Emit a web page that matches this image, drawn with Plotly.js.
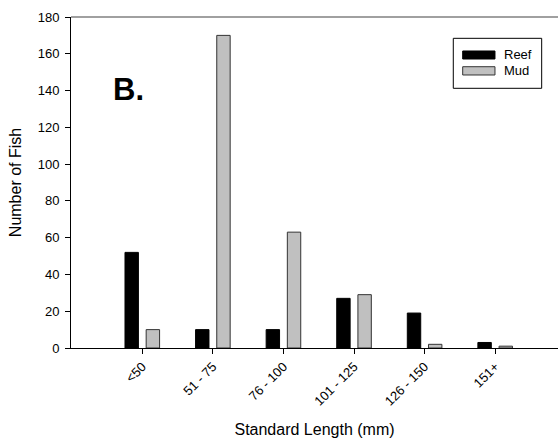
<!DOCTYPE html>
<html>
<head>
<meta charset="utf-8">
<script src="https://cdn.plot.ly/plotly-3.0.1.min.js"></script>
<style>html,body{margin:0;padding:0;background:#fff;}#chart{width:559px;height:438px;}</style>
</head>
<body>
<div id="chart"></div>
<script>
var categories = ["<50", "51 - 75", "76 - 100", "101 - 125", "126 - 150", "151+"];
var reefValues = [52, 10, 10, 27, 19, 3];
var mudValues = [10, 170, 63, 29, 2, 1];
var yTicks = [0, 20, 40, 60, 80, 100, 120, 140, 160, 180];
var seriesNames = ["Reef", "Mud"];
var seriesColors = ["#000000", "#c0c0c0"];
var seriesLines = ["#000000", "#333333"];

var font = "Arial, 'Liberation Sans', sans-serif";

var traces = [
  {
    type: "bar", name: seriesNames[0], x: categories, y: reefValues,
    width: 0.19, offset: -0.245,
    marker: {color: seriesColors[0], line: {color: seriesLines[0], width: 1}}
  },
  {
    type: "bar", name: seriesNames[1], x: categories, y: mudValues,
    width: 0.19, offset: 0.055,
    marker: {color: seriesColors[1], line: {color: seriesLines[1], width: 1}}
  }
];

// legend drawn as layout shapes + text (wide rectangular keys as in the reference)
var legendShapes = [
  {type: "rect", xref: "paper", yref: "paper", x0: 0.785, x1: 0.9665, y0: 0.7846, y1: 0.9356,
   line: {color: "#000", width: 1}, fillcolor: "#fff", layer: "above"},
  {type: "rect", xref: "paper", yref: "paper", x0: 0.8043, x1: 0.8706, y0: 0.8731, y1: 0.8973,
   line: {color: seriesLines[0], width: 1}, fillcolor: seriesColors[0], layer: "above"},
  {type: "rect", xref: "paper", yref: "paper", x0: 0.8043, x1: 0.8706, y0: 0.8248, y1: 0.8498,
   line: {color: seriesLines[1], width: 1}, fillcolor: seriesColors[1], layer: "above"}
];
var legendTexts = [
  {text: seriesNames[0], xref: "paper", yref: "paper", x: 0.885, y: 0.8852, xanchor: "left", yanchor: "middle",
   showarrow: false, font: {family: font, size: 13, color: "#000"}},
  {text: seriesNames[1], xref: "paper", yref: "paper", x: 0.885, y: 0.8369, xanchor: "left", yanchor: "middle",
   showarrow: false, font: {family: font, size: 13, color: "#000"}}
];

var layout = {
  width: 559, height: 438,
  margin: {l: 71, r: 1, t: 17, b: 90},
  paper_bgcolor: "#fff", plot_bgcolor: "#fff",
  barmode: "overlay",
  font: {family: font, color: "#000", size: 13},
  showlegend: false,
  xaxis: {
    type: "category",
    range: [-1.01, 5.89],
    showline: true, linecolor: "#000", linewidth: 1,
    ticks: "outside", ticklen: 5, tickcolor: "#000",
    tickangle: -45, showgrid: false, zeroline: false,
    tickfont: {family: font, size: 13},
    title: {text: "Standard Length (mm)", font: {family: font, size: 16}, standoff: 20}
  },
  yaxis: {
    range: [0, 180],
    tickvals: yTicks,
    showline: true, linecolor: "#000", linewidth: 1,
    ticks: "outside", ticklen: 5, tickcolor: "#000",
    ticklabelstandoff: 3,
    showgrid: false, zeroline: false,
    tickfont: {family: font, size: 13},
    title: {text: "Number of Fish", font: {family: font, size: 16}, standoff: 12}
  },
  shapes: [
    {type: "line", xref: "paper", yref: "paper", x0: 0, x1: 1, y0: 1, y1: 1,
     line: {color: "#808080", width: 1.5}}
  ].concat(legendShapes),
  annotations: [
    {text: "<b>B.</b>", xref: "paper", yref: "paper", x: 0.083, y: 0.78,
     xanchor: "left", yanchor: "middle", showarrow: false,
     font: {family: font, size: 31, color: "#000"}}
  ].concat(legendTexts)
};

Plotly.newPlot("chart", traces, layout, {displayModeBar: false, staticPlot: true});
</script>
</body>
</html>
